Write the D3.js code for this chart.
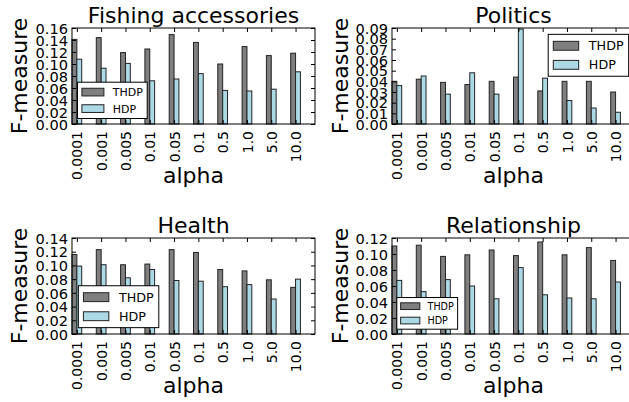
<!DOCTYPE html>
<html>
<head>
<meta charset="utf-8">
<script src="https://cdn.jsdelivr.net/npm/d3@7"></script>
<style>
  body { margin: 0; background: #fff; }
  svg { display: block; }
  text { font-family: "DejaVu Sans", sans-serif; fill: #000; }
</style>
</head>
<body>
<svg id="chart" width="629" height="402"></svg>
<script>
// Concentration parameter values on the x axis
const alphaLabels = ["0.0001", "0.001", "0.005", "0.01", "0.05", "0.1", "0.5", "1.0", "5.0", "10.0"];
const seriesNames = ["THDP", "HDP"];

// F-measure per topic
const fishingTHDP = [0.141, 0.144, 0.119, 0.125, 0.149, 0.136, 0.100, 0.129, 0.114, 0.118];
const fishingHDP  = [0.108, 0.093, 0.101, 0.072, 0.075, 0.084, 0.056, 0.055, 0.058, 0.087];

const politicsTHDP = [0.040, 0.042, 0.039, 0.037, 0.040, 0.044, 0.031, 0.040, 0.040, 0.030];
const politicsHDP  = [0.036, 0.045, 0.028, 0.048, 0.028, 0.089, 0.043, 0.022, 0.015, 0.011];

const healthTHDP = [0.116, 0.123, 0.101, 0.102, 0.123, 0.119, 0.094, 0.092, 0.079, 0.068];
const healthHDP  = [0.099, 0.101, 0.082, 0.094, 0.078, 0.077, 0.069, 0.072, 0.051, 0.080];

const relationshipTHDP = [0.110, 0.111, 0.097, 0.099, 0.105, 0.098, 0.115, 0.099, 0.108, 0.092];
const relationshipHDP  = [0.067, 0.053, 0.068, 0.060, 0.044, 0.083, 0.049, 0.045, 0.044, 0.065];

// y-axis ticks per topic
const fishingTicks = [0, 0.02, 0.04, 0.06, 0.08, 0.10, 0.12, 0.14, 0.16];
const politicsTicks = [0, 0.01, 0.02, 0.03, 0.04, 0.05, 0.06, 0.07, 0.08, 0.09];
const healthTicks = [0, 0.02, 0.04, 0.06, 0.08, 0.10, 0.12, 0.14];
const relationshipTicks = [0, 0.02, 0.04, 0.06, 0.08, 0.10, 0.12];

const colors = { THDP: "#7f7f7f", HDP: "#add8e6" };
const barWidth = 0.2;          // in category units
const axW = 243, axH = 96;

const panels = [
  { title: "Fishing accessories", thdp: fishingTHDP, hdp: fishingHDP, ticks: fishingTicks,
    left: 72, top: 28, ylabX: 26.8, legend: "lower left", legendFont: 11 },
  { title: "Politics", thdp: politicsTHDP, hdp: politicsHDP, ticks: politicsTicks,
    left: 392, top: 28, ylabX: 348, legend: "upper right", legendFont: 12.7 },
  { title: "Health", thdp: healthTHDP, hdp: healthHDP, ticks: healthTicks,
    left: 72, top: 238, ylabX: 27, legend: "lower left", legendFont: 12.7 },
  { title: "Relationship", thdp: relationshipTHDP, hdp: relationshipHDP, ticks: relationshipTicks,
    left: 392, top: 238, ylabX: 348, legend: "lower left", legendFont: 9.6 }
];

const svg = d3.select("#chart");
svg.append("rect").attr("width", 629).attr("height", 402).attr("fill", "#fff");

function drawPanel(p) {
  const g = svg.append("g");
  const x0 = p.left, x1 = p.left + axW, yTop = p.top, yBot = p.top + axH;
  const x = d3.scaleLinear().domain([0, alphaLabels.length]).range([x0, x1]);
  const y = d3.scaleLinear().domain([0, p.ticks[p.ticks.length - 1]]).range([yBot, yTop]);
  const tickPos = alphaLabels.map((_, i) => i + barWidth);

  // bars
  const rows = alphaLabels.map((a, i) => ({ i, THDP: p.thdp[i], HDP: p.hdp[i] }));
  seriesNames.forEach((s, k) => {
    g.append("g").selectAll("rect").data(rows).join("rect")
      .attr("x", d => x(d.i + k * barWidth))
      .attr("width", d => x(d.i + (k + 1) * barWidth) - x(d.i + k * barWidth))
      .attr("y", d => y(d[s]))
      .attr("height", d => y(0) - y(d[s]))
      .attr("fill", colors[s])
      .attr("stroke", "#222")
      .attr("stroke-width", 1);
  });

  // axes with inward ticks on all four sides
  const fmt = d3.format(".2f");
  const left = g.append("g").attr("transform", `translate(${x0},0)`)
    .call(d3.axisLeft(y).tickValues(p.ticks).tickFormat(fmt).tickSize(-4).tickSizeOuter(0).tickPadding(4));
  const right = g.append("g").attr("transform", `translate(${x1},0)`)
    .call(d3.axisRight(y).tickValues(p.ticks).tickFormat("").tickSize(-4).tickSizeOuter(0));
  const bottom = g.append("g").attr("transform", `translate(0,${yBot})`)
    .call(d3.axisBottom(x).tickValues(tickPos).tickFormat((d, i) => alphaLabels[i]).tickSize(-4).tickSizeOuter(0));
  const top = g.append("g").attr("transform", `translate(0,${yTop})`)
    .call(d3.axisTop(x).tickValues(tickPos).tickFormat("").tickSize(-4).tickSizeOuter(0));

  [left, right, bottom, top].forEach(a => {
    a.select(".domain").remove();
    a.selectAll("line").attr("stroke", "#000").attr("stroke-width", 1);
    a.selectAll("text").attr("font-family", "DejaVu Sans").attr("fill", "#000");
  });
  left.selectAll("text").attr("font-size", 14.6).attr("dy", "0.36em");
  bottom.selectAll("text")
    .attr("font-size", 14)
    .attr("text-anchor", "end")
    .attr("transform", "rotate(-90)")
    .attr("x", -7).attr("y", 0).attr("dy", "0.36em");

  // frame
  g.append("rect").attr("x", x0).attr("y", yTop).attr("width", axW).attr("height", axH)
    .attr("fill", "none").attr("stroke", "#000").attr("stroke-width", 1);

  // title and labels
  g.append("text").attr("x", (x0 + x1) / 2).attr("y", yTop - 4.7)
    .attr("text-anchor", "middle").attr("font-size", 22).text(p.title);
  g.append("text").attr("transform", `translate(${p.ylabX},${(yTop + yBot) / 2}) rotate(-90)`)
    .attr("text-anchor", "middle").attr("font-size", 22).text("F-measure");
  g.append("text").attr("x", (x0 + x1) / 2).attr("y", yBot + 59)
    .attr("text-anchor", "middle").attr("font-size", 22).text("alpha");

  // legend
  const fs = p.legendFont;
  const pad = 0.4 * fs, handleW = 2 * fs, handleH = 0.7 * fs, textPad = 0.8 * fs,
        rowH = fs, spacing = 0.5 * fs, axPad = 0.5 * fs;
  const lg = g.append("g");
  const labels = lg.selectAll("text").data(seriesNames).join("text")
    .attr("font-size", fs).text(d => d);
  const textW = d3.max(labels.nodes(), n => n.getComputedTextLength());
  const boxW = 2 * pad + handleW + textPad + textW;
  const boxH = 2 * pad + 2 * rowH + spacing;
  let bx, by;
  if (p.legend === "upper right") { bx = x1 - axPad - boxW; by = yTop + axPad; }
  else { bx = x0 + axPad; by = yBot - axPad - boxH; }
  lg.insert("rect", "text").attr("x", bx).attr("y", by).attr("width", boxW).attr("height", boxH)
    .attr("fill", "#fff").attr("stroke", "#000").attr("stroke-width", 1);
  seriesNames.forEach((s, k) => {
    const cy = by + pad + k * (rowH + spacing) + rowH / 2;
    lg.append("rect").attr("x", bx + pad).attr("y", cy - handleH / 2)
      .attr("width", handleW).attr("height", handleH)
      .attr("fill", colors[s]).attr("stroke", "#222").attr("stroke-width", 1);
  });
  labels.attr("x", bx + pad + handleW + textPad)
    .attr("y", (d, k) => by + pad + k * (rowH + spacing) + rowH / 2)
    .attr("dy", "0.36em");
}

panels.forEach(drawPanel);
</script>
</body>
</html>
